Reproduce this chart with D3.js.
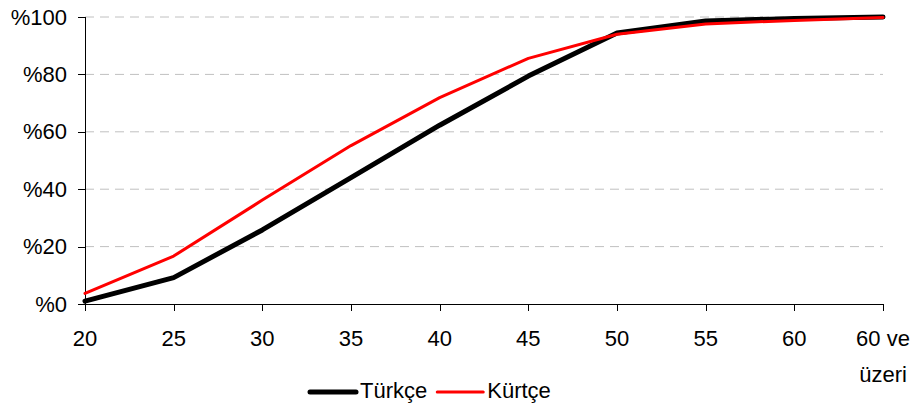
<!DOCTYPE html>
<html>
<head>
<meta charset="utf-8">
<script src="https://cdn.jsdelivr.net/npm/d3@7"></script>
<style>
  body { margin: 0; background: #fff; }
  svg text { font-family: "Liberation Sans", Arial, sans-serif; font-size: 22px; fill: #000; }
</style>
</head>
<body>
<svg width="910" height="407"></svg>
<script>
// age groups on the x axis
var categories = ["20", "25", "30", "35", "40", "45", "50", "55", "60", "60 ve üzeri"];
// cumulative share
var turkce = [1.0, 9.2, 25.8, 44.0, 62.3, 79.4, 94.4, 98.6, 99.5, 100];
var kurtce = [3.7, 16.7, 36.2, 55.2, 71.9, 85.6, 94.0, 97.6, 98.8, 99.8];
var yTicks = [0, 20, 40, 60, 80, 100];

var series = [
    { name: "Türkçe", values: turkce, color: "#000000", width: 5 },
    { name: "Kürtçe", values: kurtce, color: "#ff0000", width: 3 }
];

var svg = d3.select("svg"),
    margin = { top: 17, right: 27, bottom: 103, left: 85 },
    width = +svg.attr("width"),
    height = +svg.attr("height");

var x = d3.scalePoint()
    .domain(categories)
    .range([margin.left, width - margin.right]);

var y = d3.scaleLinear()
    .domain([0, 100])
    .range([height - margin.bottom, margin.top]);

// dashed grid lines
svg.append("g")
    .selectAll("line")
    .data(yTicks.filter(function(d) { return d > 0; }))
    .enter().append("line")
    .attr("x1", margin.left)
    .attr("x2", width - margin.right)
    .attr("y1", function(d) { return y(d); })
    .attr("y2", function(d) { return y(d); })
    .attr("stroke", "#c0c0c0")
    .attr("stroke-width", 1)
    .attr("stroke-dasharray", "9,6");

// y axis
var yAxis = svg.append("g")
    .attr("class", "y axis")
    .attr("transform", "translate(" + margin.left + ",0)")
    .call(d3.axisLeft(y).tickValues(yTicks).tickSize(7).tickPadding(11)
        .tickFormat(function(d) { return "%" + d; }));

// x axis
var xAxis = svg.append("g")
    .attr("class", "x axis")
    .attr("transform", "translate(0," + (height - margin.bottom) + ")")
    .call(d3.axisBottom(x).tickSize(7).tickSizeOuter(0).tickFormat(""));

svg.selectAll(".axis path, .axis line").attr("stroke", "#000").attr("shape-rendering", "crispEdges");
svg.selectAll(".axis text").style("font-size", "22px").style("font-family", "Liberation Sans, Arial, sans-serif").attr("fill", "#000");
yAxis.select(".domain").remove();
yAxis.append("line")
    .attr("x1", 0).attr("x2", 0)
    .attr("y1", y(0)).attr("y2", y(100))
    .attr("stroke", "#000")
    .attr("shape-rendering", "crispEdges");

// x labels, last one wraps on two lines
var xLabels = svg.append("g");
categories.forEach(function(c) {
    var t = xLabels.append("text")
        .attr("text-anchor", "middle")
        .attr("x", x(c))
        .attr("y", 346);
    var parts = c === "60 ve üzeri" ? ["60 ve", "üzeri"] : [c];
    parts.forEach(function(p, i) {
        t.append("tspan")
            .attr("x", x(c))
            .attr("dy", i === 0 ? 0 : 36)
            .text(p);
    });
});

// lines
var line = d3.line()
    .x(function(d, i) { return x(categories[i]); })
    .y(function(d) { return y(d); });

svg.append("g")
    .selectAll("path")
    .data(series)
    .enter().append("path")
    .attr("d", function(d) { return line(d.values); })
    .attr("fill", "none")
    .attr("stroke", function(d) { return d.color; })
    .attr("stroke-width", function(d) { return d.width; })
    .attr("stroke-linejoin", "round")
    .attr("stroke-linecap", "round");

// legend
var legend = svg.append("g").attr("transform", "translate(310,392)");
var lx = 0;
series.forEach(function(s) {
    legend.append("line")
        .attr("x1", lx).attr("x2", lx + 46)
        .attr("y1", 0).attr("y2", 0)
        .attr("stroke", s.color)
        .attr("stroke-width", s.width)
        .attr("stroke-linecap", "round");
    var t = legend.append("text")
        .attr("x", lx + 50)
        .attr("y", 6)
        .text(s.name);
    lx += 50 + t.node().getComputedTextLength() + 10;
});
</script>
</body>
</html>
